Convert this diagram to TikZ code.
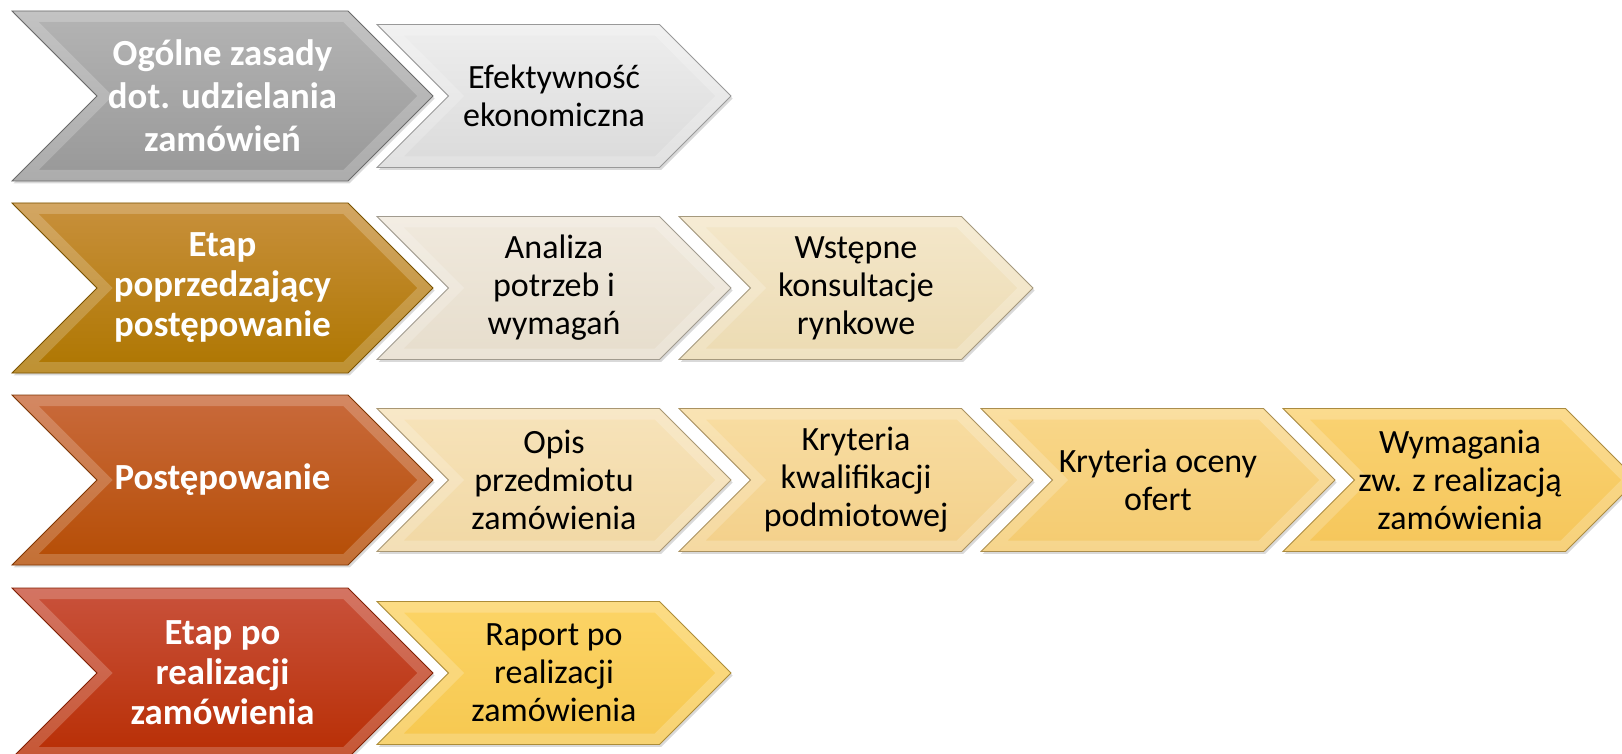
\documentclass[tikz,border=0pt]{standalone}
\usepackage{fontspec}
\setmainfont{Carlito}
\usetikzlibrary{shapes.symbols, shadows, calc}

\definecolor{grayA}{HTML}{B4B4B4}
\definecolor{grayB}{HTML}{989898}
\definecolor{lgrayA}{HTML}{EEEEEE}
\definecolor{lgrayB}{HTML}{DADADA}
\definecolor{goldA}{HTML}{C8903C}
\definecolor{goldB}{HTML}{AE7600}
\definecolor{sandA}{HTML}{F0E9DD}
\definecolor{sandB}{HTML}{E6DDCC}
\definecolor{wheatA}{HTML}{F4E7CA}
\definecolor{wheatB}{HTML}{ECDBB2}
\definecolor{rustA}{HTML}{C96A3C}
\definecolor{rustB}{HTML}{B54D04}
\definecolor{redA}{HTML}{C9523C}
\definecolor{redB}{HTML}{B82E04}
\definecolor{yelA}{HTML}{F7E3BA}
\definecolor{yelB}{HTML}{F1D8A4}
\definecolor{yelC}{HTML}{F8DDA2}
\definecolor{yelD}{HTML}{F3D08A}
\definecolor{yelE}{HTML}{F9D78A}
\definecolor{yelF}{HTML}{F4CB70}
\definecolor{yelG}{HTML}{FAD272}
\definecolor{yelH}{HTML}{F5C65A}
\definecolor{yelI}{HTML}{FCD466}
\definecolor{yelJ}{HTML}{F6C850}

\tikzset{
  chev/.style 2 args={signal, signal from=west, signal to=east,
    signal pointer angle=90, inner xsep=-30pt, inner ysep=0pt,
    align=center, top color=#1, bottom color=#2,
    draw=#2!70!black, line width=0.4pt,
    drop shadow={shadow xshift=0.8pt, shadow yshift=-1.2pt, opacity=0.3},
    path picture={
      \draw[white, opacity=0.2, line width=11pt, line join=miter]
        let \p1=(path picture bounding box.north west),
            \p2=(path picture bounding box.south east),
            \n1={(\y1-\y2)/2} in
        (\x1,\y1) -- (\x2-\n1,\y1) -- (\x2,\y1-\n1) -- (\x2-\n1,\y2)
        -- (\x1,\y2) -- (\x1+\n1,\y1-\n1) -- cycle;
    }},
  bigchev/.style 2 args={chev={#1}{#2}, minimum width=210.5pt,
    minimum height=85pt, text=white,
    font=\bfseries\fontsize{18.4}{20}\selectfont},
  smallchev/.style 2 args={chev={#1}{#2}, minimum width=177pt,
    minimum height=71.5pt, text=black,
    font=\fontsize{17}{19}\selectfont},
}

\begin{document}
\begin{tikzpicture}[x=1pt, y=-1pt]
  \useasboundingbox (0,0) rectangle (811,377);

  % Stages on the left
  \node[bigchev={grayA}{grayB}, font=\bfseries\fontsize{18.4}{21.5}\selectfont]
    (gen) at (111.25,48) {Ogólne zasady\\dot. udzielania\\zamówień};
  \node[bigchev={goldA}{goldB}] (pre) at (111.25,144)
    {Etap\\poprzedzający\\postępowanie};
  \node[bigchev={rustA}{rustB}] (post) at (111.25,240) {Postępowanie};
  \node[bigchev={redA}{redB}] (after) at (111.25,336.5)
    {Etap po\\realizacji\\zamówienia};

  % Steps of each stage
  \node[smallchev={lgrayA}{lgrayB}] (eff) at (277,48)
    {Efektywność\\ekonomiczna};

  \node[smallchev={sandA}{sandB}] (ana) at (277,144)
    {Analiza\\potrzeb i\\wymagań};
  \node[smallchev={wheatA}{wheatB}] (kons) at (428,144)
    {Wstępne\\konsultacje\\rynkowe};

  \node[smallchev={yelA}{yelB}] (opis) at (277,240)
    {Opis\\przedmiotu\\zamówienia};
  \node[smallchev={yelC}{yelD}] (kwal) at (428,240)
    {Kryteria\\kwalifikacji\\podmiotowej};
  \node[smallchev={yelE}{yelF}] (ocena) at (579,240)
    {Kryteria oceny\\ofert};
  \node[smallchev={yelG}{yelH}] (wym) at (730,240)
    {Wymagania\\zw. z realizacją\\zamówienia};

  \node[smallchev={yelI}{yelJ}] (rap) at (277,336.5)
    {Raport po\\realizacji\\zamówienia};
\end{tikzpicture}
\end{document}
